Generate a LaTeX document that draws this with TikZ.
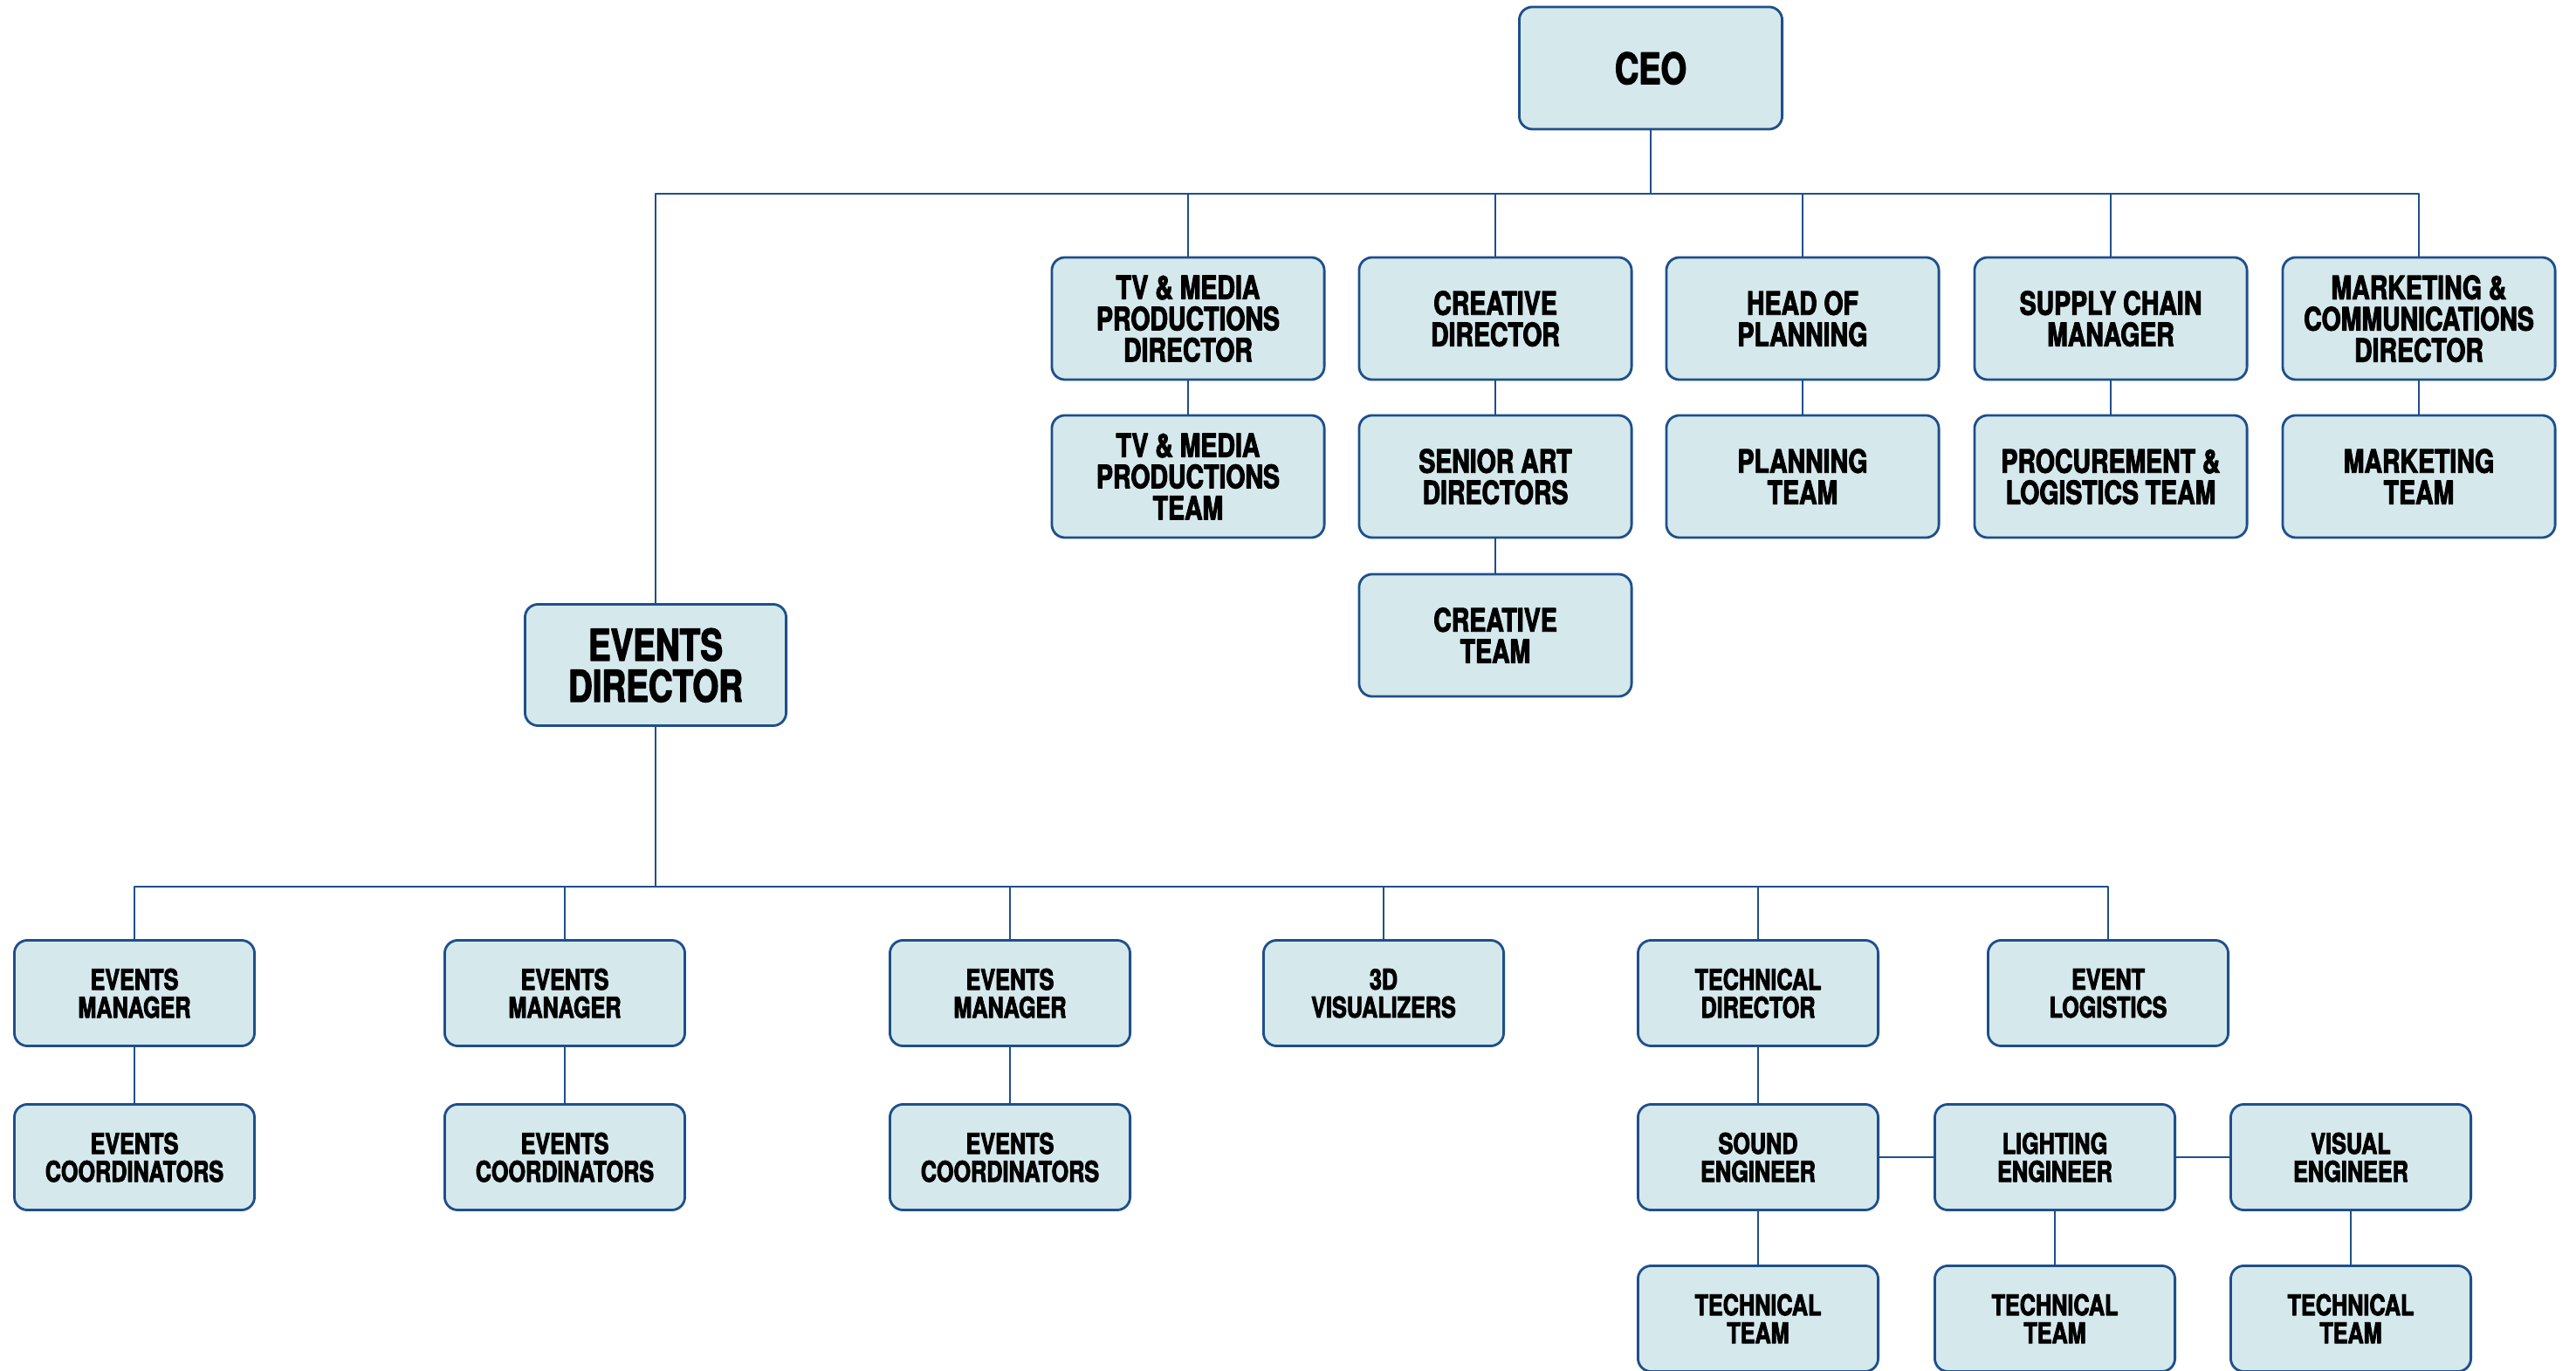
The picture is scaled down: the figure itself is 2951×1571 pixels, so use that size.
\documentclass[tikz,border=0pt]{standalone}
\usepackage{fontspec}
\setmainfont{TeX Gyre Heros}[FakeStretch=0.77,BoldFeatures={FakeBold=2.6}]
\definecolor{boxfill}{RGB}{213,232,236}
\definecolor{boxline}{RGB}{30,79,139}
\begin{document}
\begin{tikzpicture}[x=0.01cm,y=-0.01cm,line join=round,
	unit/.style={draw=boxline,fill=boxfill,line width=0.8pt,rounded corners=0.15cm,align=center,inner sep=0pt},
	head/.style={unit,minimum width=3.12cm,minimum height=1.40cm,font=\bfseries\fontsize{10.5}{10.2}\selectfont,text depth=-0.1cm},
	staff/.style={unit,minimum width=2.75cm,minimum height=1.21cm,font=\bfseries\fontsize{9.3}{9.1}\selectfont,text depth=-0.18cm},
	link/.style={draw=boxline,line width=0.8pt}]
			\def\rowa{365}
			\def\rowb{546}
			\def\rowc{728}
			\def\rowd{1138}
			\def\rowe{1326}
			\def\rowf{1511}
			\useasboundingbox (0,0) rectangle (2951,1571);
			\node[unit,minimum width=3.01cm,minimum height=1.40cm,font=\bfseries\fontsize{14}{14}\selectfont,text depth=-0.04cm] (ceo) at (1891,78) {CEO};
			\node[unit,minimum width=2.99cm,minimum height=1.39cm,font=\bfseries\fontsize{14.2}{13.4}\selectfont,text depth=-0.16cm] (events) at (751,762) {EVENTS\\DIRECTOR};
			\node[head] (tv) at (1361,\rowa) {TV \& MEDIA\\PRODUCTIONS\\DIRECTOR};
			\node[head] (creative) at (1713,\rowa) {CREATIVE\\DIRECTOR};
			\node[head] (planning) at (2065,\rowa) {HEAD OF\\PLANNING};
			\node[head] (supply) at (2418,\rowa) {SUPPLY CHAIN\\MANAGER};
			\node[head] (marketing) at (2771,\rowa) {MARKETING \&\\COMMUNICATIONS\\DIRECTOR};
			\node[head] (tvteam) at (1361,\rowb) {TV \& MEDIA\\PRODUCTIONS\\TEAM};
			\node[head] (artdir) at (1713,\rowb) {SENIOR ART\\DIRECTORS};
			\node[head] (planteam) at (2065,\rowb) {PLANNING\\TEAM};
			\node[head] (logteam) at (2418,\rowb) {PROCUREMENT \&\\LOGISTICS TEAM};
			\node[head] (mkteam) at (2771,\rowb) {MARKETING\\TEAM};
			\node[head] (crteam) at (1713,\rowc) {CREATIVE\\TEAM};
			\node[staff] (em1) at (154,\rowd) {EVENTS\\MANAGER};
			\node[staff] (em2) at (647,\rowd) {EVENTS\\MANAGER};
			\node[staff] (em3) at (1157,\rowd) {EVENTS\\MANAGER};
			\node[staff] (viz) at (1585,\rowd) {3D\\VISUALIZERS};
			\node[staff] (techdir) at (2014,\rowd) {TECHNICAL\\DIRECTOR};
			\node[staff] (logistics) at (2415,\rowd) {EVENT\\LOGISTICS};
			\node[staff] (co1) at (154,\rowe) {EVENTS\\COORDINATORS};
			\node[staff] (co2) at (647,\rowe) {EVENTS\\COORDINATORS};
			\node[staff] (co3) at (1157,\rowe) {EVENTS\\COORDINATORS};
			\node[staff] (sound) at (2014,\rowe) {SOUND\\ENGINEER};
			\node[staff] (lighting) at (2354,\rowe) {LIGHTING\\ENGINEER};
			\node[staff] (visual) at (2693,\rowe) {VISUAL\\ENGINEER};
			\node[staff] (tt1) at (2014,\rowf) {TECHNICAL\\TEAM};
			\node[staff] (tt2) at (2354,\rowf) {TECHNICAL\\TEAM};
			\node[staff] (tt3) at (2693,\rowf) {TECHNICAL\\TEAM};
			\coordinate (topbus) at (1891,222);
			\coordinate (lowbus) at (751,1016);
			\draw[link] (ceo) -- (topbus);
			\draw[link] (events.north) -- (events.north |- topbus) -- (topbus -| marketing.north) -- (marketing.north);
			\foreach \n in {tv,creative,planning,supply} \draw[link] (\n.north) -- (\n.north |- topbus);
			\foreach \a/\b in {tv/tvteam,creative/artdir,artdir/crteam,planning/planteam,supply/logteam,marketing/mkteam} \draw[link] (\a) -- (\b);
			\draw[link] (events) -- (lowbus);
			\draw[link] (em1.north) -- (em1.north |- lowbus) -- (lowbus -| logistics.north) -- (logistics.north);
			\foreach \n in {em2,em3,viz,techdir} \draw[link] (\n.north) -- (\n.north |- lowbus);
			\foreach \a/\b in {em1/co1,em2/co2,em3/co3,techdir/sound,sound/tt1,lighting/tt2,visual/tt3,sound/lighting,lighting/visual} \draw[link] (\a) -- (\b);
		\end{tikzpicture}
\end{document}
